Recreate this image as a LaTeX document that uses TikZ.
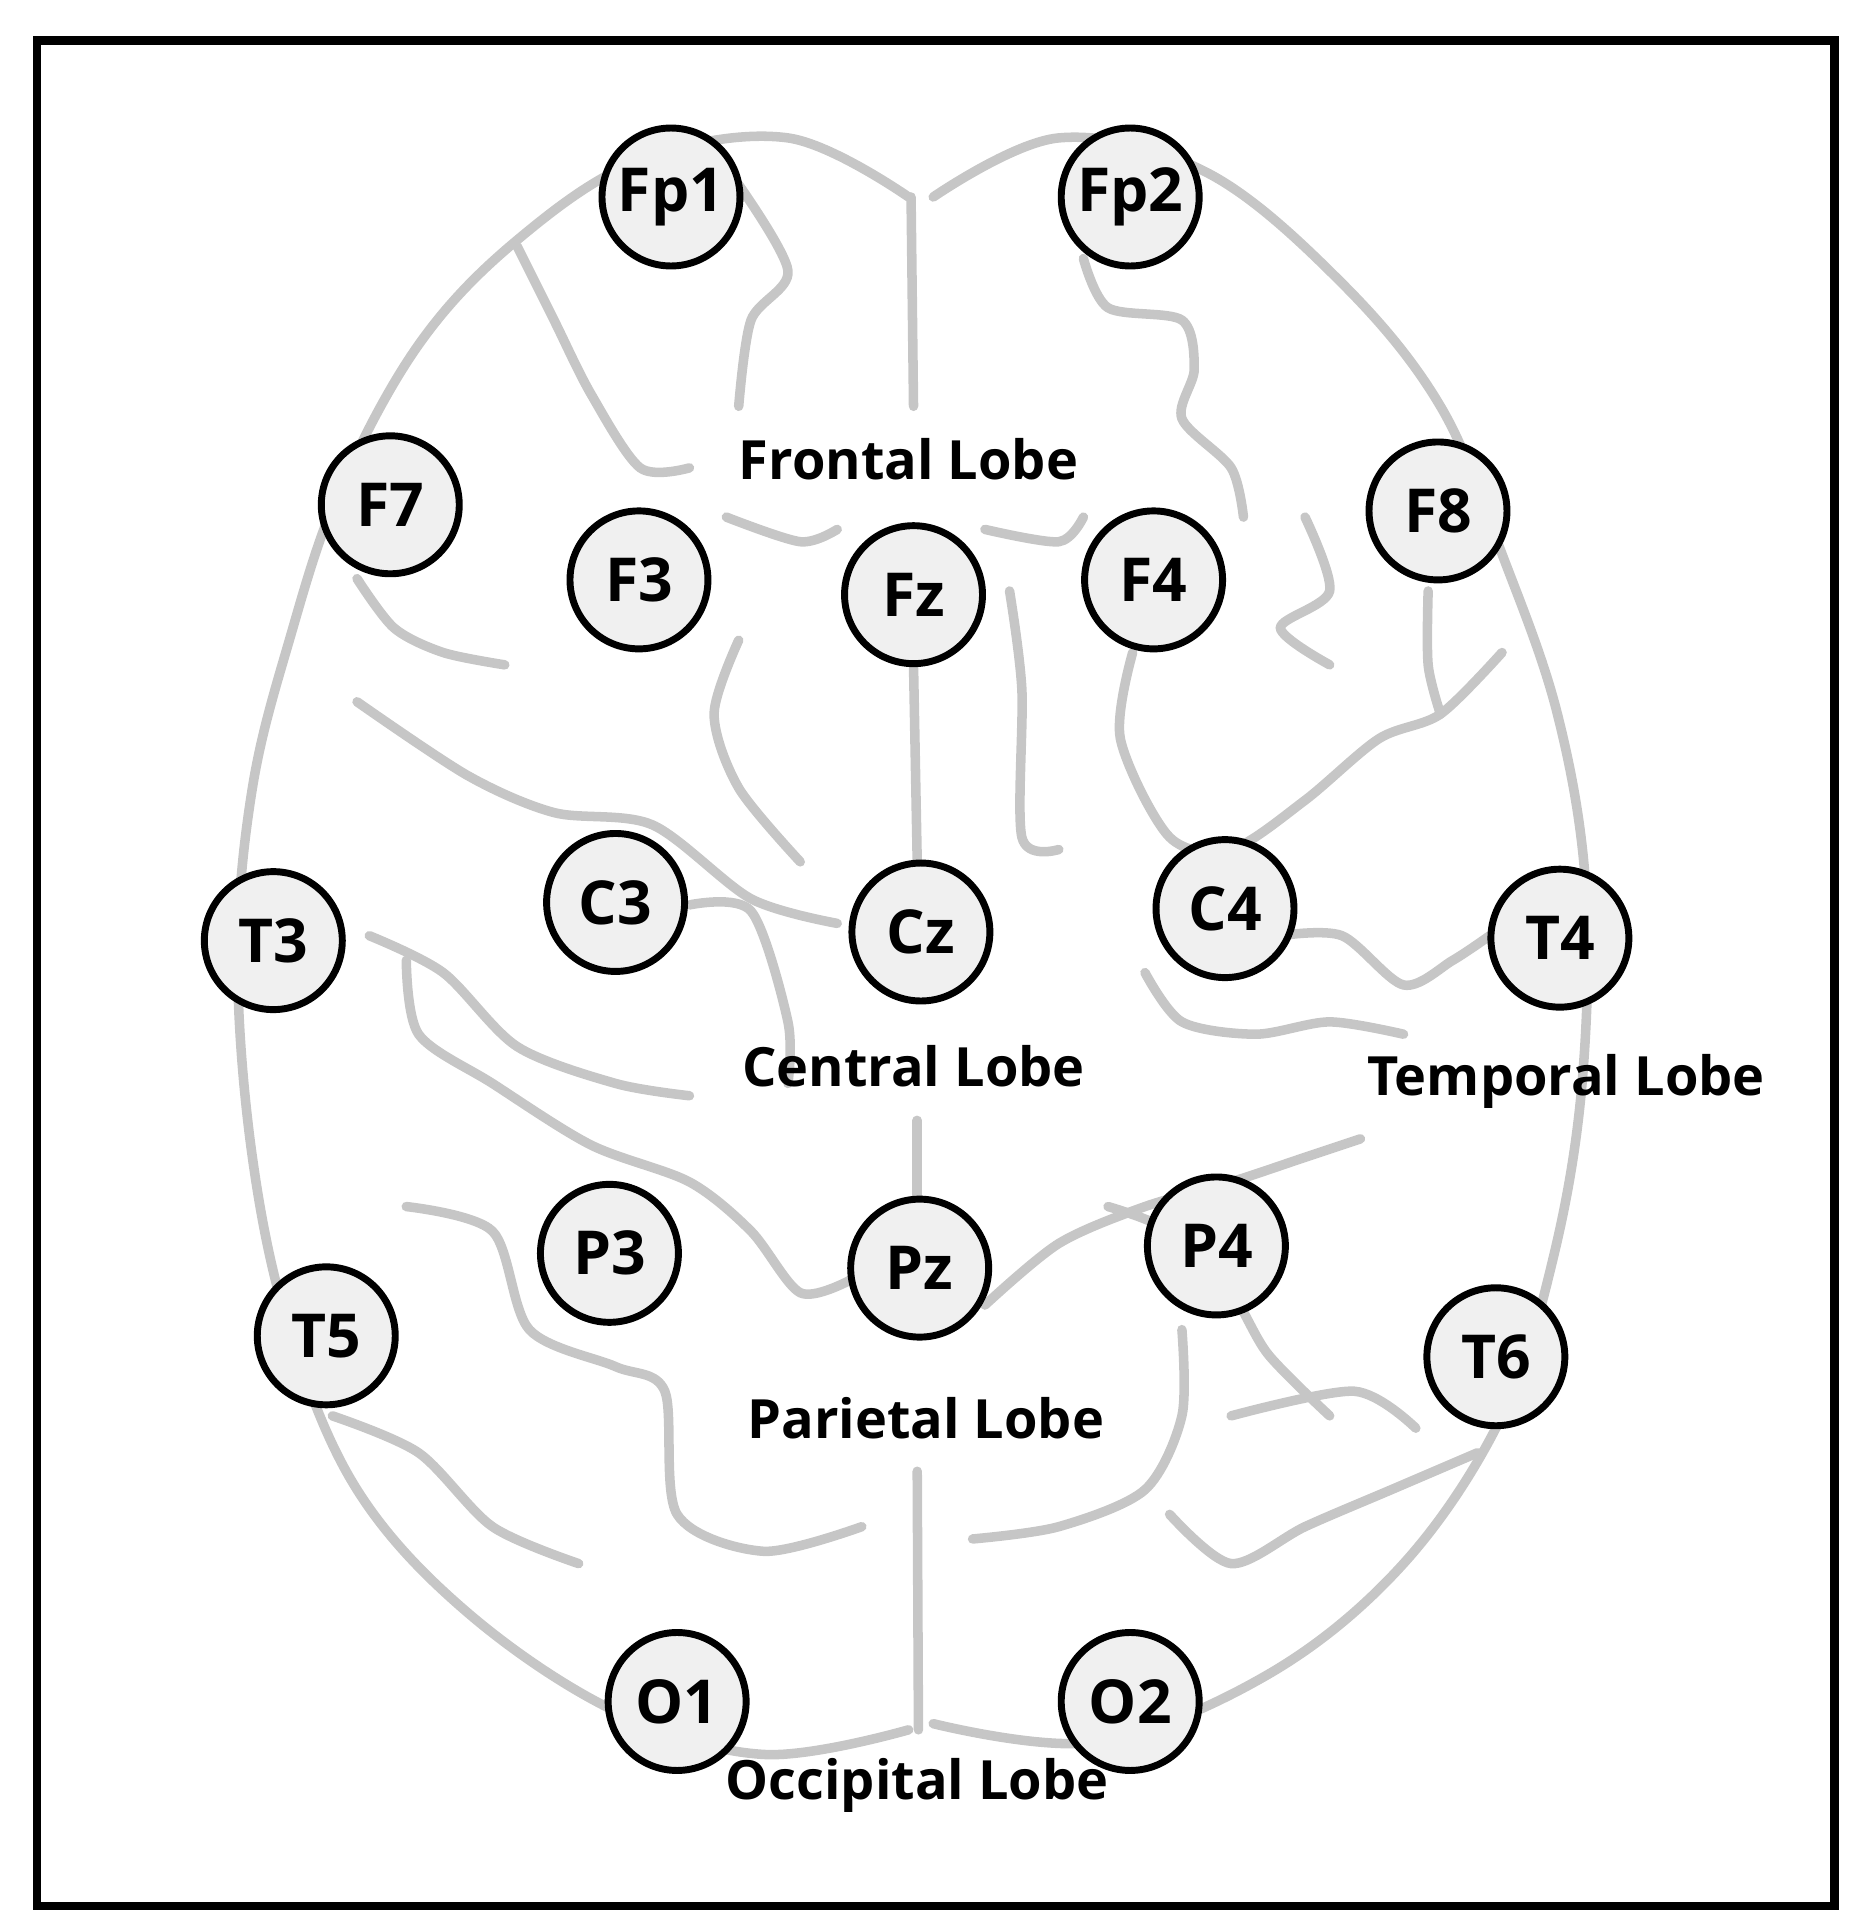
\documentclass[tikz,border=0pt]{standalone}
\usepackage{fontspec}
\setmainfont{Open Sans}
\begin{document}
\begin{tikzpicture}[x=0.01cm,y=-0.01cm,
  elec/.style={circle,draw=black,fill=gray!12,line width=1.6pt,minimum size=1.12cm,inner sep=0pt,font=\fontsize{14}{14}\selectfont\bfseries},
  lobe/.style={font=\fontsize{12.5}{12.5}\selectfont\bfseries},
  brain/.style={draw=gray!45,line width=2.2pt,line cap=round}]
\useasboundingbox (0,0) rectangle (1520,1553);
\draw[line width=2pt] (30,33) rectangle (1490,1548);
% brain outline
\draw[brain] plot[smooth,tension=0.6] coordinates {(738,160) (640,112) (520,130) (420,195) (340,280) (275,400) (235,520) (205,640) (193,780) (205,940) (235,1080) (290,1210) (380,1310) (500,1390) (620,1425) (738,1405)};
\draw[brain] plot[smooth,tension=0.6] coordinates {(758,160) (860,112) (980,140) (1090,230) (1170,330) (1220,450) (1265,580) (1288,720) (1285,880) (1262,1020) (1220,1150) (1140,1270) (1030,1360) (890,1415) (758,1400)};
\draw[brain] (740,160) -- (742,330);
\draw[brain] (745,1195) -- (746,1405);
\draw[brain] (742,540) -- (745,700);
\draw[brain] (745,910) -- (745,975);
% sulci
\draw[brain] plot[smooth] coordinates {(290,570) (380,630) (450,660) (530,670) (610,730) (680,750)};
\draw[brain] plot[smooth] coordinates {(560,735) (610,740) (640,830) (640,880)};
\draw[brain] plot[smooth] coordinates {(600,520) (580,580) (600,640) (650,700)};
\draw[brain] plot[smooth] coordinates {(820,480) (830,560) (830,680) (860,690)};
\draw[brain] plot[smooth] coordinates {(920,530) (910,600) (950,680) (1000,690) (1060,650) (1120,600) (1170,580) (1220,530)};
\draw[brain] plot[smooth] coordinates {(1040,760) (1090,760) (1140,800) (1180,780) (1210,760)};
\draw[brain] plot[smooth] coordinates {(300,760) (360,790) (420,850) (500,880) (560,890)};
\draw[brain] plot[smooth] coordinates {(330,780) (340,840) (400,880) (480,930) (560,960) (610,1000) (650,1050) (690,1040)};
\draw[brain] plot[smooth] coordinates {(800,1060) (860,1010) (930,980) (1000,960) (1060,940) (1105,925)};
\draw[brain] plot[smooth] coordinates {(900,980) (950,1000) (1000,1050) (1030,1100) (1080,1150)};
\draw[brain] plot[smooth] coordinates {(330,980) (400,1000) (430,1080) (500,1110) (540,1130) (550,1230) (620,1260) (700,1240)};
\draw[brain] plot[smooth] coordinates {(960,1080) (960,1150) (930,1210) (860,1240) (790,1250)};
\draw[brain] plot[smooth] coordinates {(1000,1150) (1100,1130) (1150,1160)};
\draw[brain] plot[smooth] coordinates {(270,1150) (340,1180) (400,1240) (470,1270)};
\draw[brain] plot[smooth] coordinates {(950,1230) (1000,1270) (1060,1240) (1130,1210) (1200,1180)};
\draw[brain] plot[smooth] coordinates {(600,150) (640,220) (610,260) (600,330)};
\draw[brain] plot[smooth] coordinates {(880,210) (900,250) (960,260) (970,300) (960,340) (1000,380) (1010,420)};
\draw[brain] plot[smooth] coordinates {(420,200) (450,260) (480,320) (520,380) (560,380)};
\draw[brain] plot[smooth] coordinates {(290,470) (320,510) (360,530) (410,540)};
\draw[brain] plot[smooth] coordinates {(1060,420) (1080,480) (1040,510) (1080,540)};
\draw[brain] plot[smooth] coordinates {(1160,480) (1160,540) (1170,580)};
\draw[brain] plot[smooth] coordinates {(590,420) (650,440) (680,430)};
\draw[brain] plot[smooth] coordinates {(800,430) (860,440) (880,420)};
\draw[brain] plot[smooth] coordinates {(930,790) (960,830) (1020,840) (1080,830) (1140,840)};
% electrodes
\foreach \n/\x/\y in {Fp1/545/160,Fp2/918/160,F7/317/410,F8/1168/415,F3/519/471,Fz/742/483,F4/937/471,T3/222/764,C3/500/733,Cz/748/757,C4/995/738,T4/1267/762,P3/495/1018,Pz/747/1030,P4/988/1012,T5/265/1085,T6/1215/1102,O1/550/1382,O2/918/1382}
  \node[elec] (\n) at (\x,\y) {\n};
\node[lobe] (fl) at (738,373) {Frontal Lobe};
\node[lobe] (cl) at (742,866) {Central Lobe};
\node[lobe] (tl) at (1272,878) {Temporal Lobe};
\node[lobe] (pl) at (752,1152) {Parietal Lobe};
\node[lobe] (ol) at (745,1450) {Occipital Lobe};
\end{tikzpicture}
\end{document}
